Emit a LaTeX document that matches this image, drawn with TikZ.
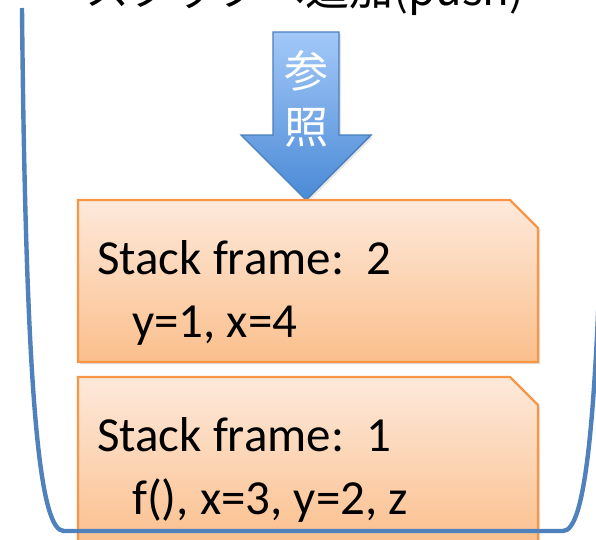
\documentclass[tikz,border=0pt]{standalone}
\usepackage{fontspec}
\setmainfont{Carlito}
\newfontfamily\jpfont{Noto Sans CJK JP}
\usetikzlibrary{shadows}
\definecolor{bowlblue}{HTML}{4F81BD}
\definecolor{frameedge}{HTML}{F79646}
\definecolor{frametop}{HTML}{FDE9DB}
\definecolor{framebot}{HTML}{FBBF8C}
\definecolor{arrowtop}{HTML}{A3C8F8}
\definecolor{arrowbot}{HTML}{4A8AD6}
\definecolor{arrowedge}{HTML}{4A7EBB}
\tikzset{
  framebox/.style={draw=frameedge, line width=2.4pt, line join=miter,
    top color=frametop, bottom color=framebot,
    drop shadow={opacity=0.25, shadow xshift=2pt, shadow yshift=-2pt}},
  frametext/.style={anchor=base west, inner sep=0pt, font=\fontsize{49}{59}\selectfont},
  bowl/.style={draw=bowlblue, line width=4.4pt},
  refarrow/.style={draw=arrowedge, line width=1.4pt, line join=miter,
    top color=arrowtop, bottom color=arrowbot,
    drop shadow={opacity=0.2, shadow xshift=2pt, shadow yshift=-2pt}},
  arrowtext/.style={inner sep=0pt, text=white, font=\jpfont\fontsize{44}{50}\selectfont},
  titletext/.style={anchor=base west, inner sep=0pt, font=\jpfont\fontsize{44}{50}\selectfont}
}
\begin{document}
\begin{tikzpicture}[x=1pt,y=-1pt]
\useasboundingbox (0,0) rectangle (596,539);
\clip (0,0) rectangle (596,539);
% title (cut off at the top)
\node[titletext] (title) at (85,5) {スタックへ追加(push)};
% frame 1 (bottom)
\path[framebox] (78,377) -- (510,377) -- (538,405) -- (538,548) -- (78,548) -- cycle;
\node[frametext] (f1a) at (97,451) {Stack frame:\ \ 1};
\node[frametext] (f1b) at (132,514) {f(), x=3, y=2, z};
% reference arrow
\path[refarrow] (273,32) -- (339,32) -- (339,135) -- (371,135) -- (306,200) -- (241,135) -- (273,135) -- cycle;
\node[arrowtext] (ref1) at (306,71) {参};
\node[arrowtext] (ref2) at (306,128) {照};
% frame 2 (top)
\path[framebox] (78,200) -- (510,200) -- (538,228) -- (538,362) -- (78,362) -- cycle;
\node[frametext] (f2a) at (97,274) {Stack frame:\ \ 2};
\node[frametext] (f2b) at (132,337) {y=1, x=4};
% bowl
\draw[bowl] (22,8) .. controls (26,430) and (42,531) .. (64,531) -- (563,531)
  .. controls (585,531) and (601,430) .. (605,8);
\end{tikzpicture}
\end{document}
